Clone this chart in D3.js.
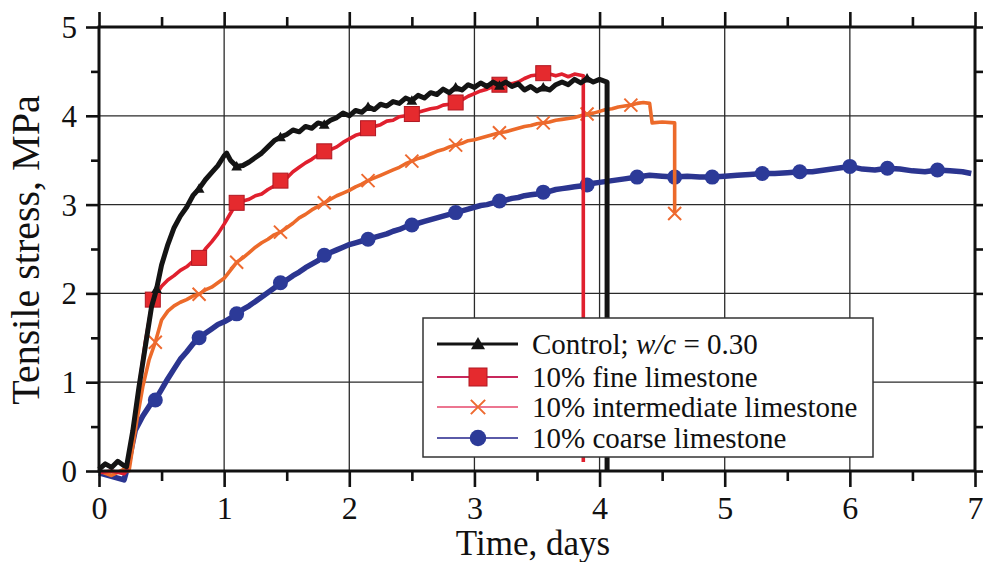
<!DOCTYPE html>
<html>
<head>
<meta charset="utf-8">
<script src="https://cdn.jsdelivr.net/npm/d3@7/dist/d3.min.js"></script>
<style>
  html, body { margin: 0; padding: 0; background: #fff; }
  svg { display: block; font-family: "Liberation Serif", "Times New Roman", serif; }
</style>
</head>
<body>
<svg id="chart" width="983" height="562"></svg>
<script>
// Tensile stress development, [time (days), stress (MPa)]
const controlData = [
  [0,0.02],[0.05,0.08],[0.1,0.04],[0.15,0.11],[0.2,0.06],[0.22,0.05],
  [0.27,0.45],[0.32,0.95],[0.37,1.4],[0.42,1.85],[0.46,2.05],[0.5,2.32],[0.55,2.55],
  [0.6,2.74],[0.65,2.87],[0.7,2.97],[0.75,3.1],[0.8,3.18],[0.85,3.28],[0.9,3.36],
  [0.95,3.44],[1.0,3.55],[1.02,3.58],[1.05,3.5],[1.1,3.43],[1.15,3.44],[1.2,3.48],
  [1.25,3.53],[1.3,3.58],[1.35,3.65],[1.4,3.72],[1.45,3.76],[1.5,3.79],[1.55,3.84],
  [1.6,3.82],[1.65,3.88],[1.7,3.86],[1.75,3.92],[1.8,3.9],[1.85,3.95],[1.9,3.98],
  [1.95,4.03],[2.0,4.0],[2.05,4.06],[2.1,4.04],[2.15,4.1],[2.2,4.07],[2.25,4.13],
  [2.3,4.11],[2.35,4.16],[2.4,4.14],[2.45,4.2],[2.5,4.17],[2.55,4.23],[2.6,4.2],
  [2.65,4.26],[2.7,4.24],[2.75,4.3],[2.8,4.26],[2.85,4.32],[2.9,4.29],[2.95,4.35],
  [3.0,4.32],[3.05,4.37],[3.1,4.33],[3.15,4.38],[3.2,4.34],[3.25,4.38],[3.3,4.33],
  [3.35,4.36],[3.4,4.29],[3.45,4.33],[3.5,4.28],[3.55,4.32],[3.6,4.29],[3.65,4.35],
  [3.7,4.38],[3.75,4.35],[3.8,4.41],[3.85,4.37],[3.9,4.42],[3.95,4.38],[4.0,4.41],
  [4.06,4.38],[4.06,0]
];
const fineData = [
  [0,-0.02],[0.1,0.0],[0.2,-0.03],[0.22,0.0],[0.27,0.45],[0.32,0.95],[0.37,1.45],
  [0.43,1.93],[0.5,2.08],[0.55,2.15],[0.6,2.2],[0.65,2.26],[0.7,2.3],[0.75,2.36],
  [0.8,2.4],[0.85,2.5],[0.9,2.58],[0.95,2.67],[1.0,2.78],[1.05,2.9],[1.1,3.02],
  [1.15,3.04],[1.2,3.06],[1.25,3.1],[1.3,3.12],[1.35,3.17],[1.4,3.21],[1.45,3.27],
  [1.5,3.3],[1.55,3.37],[1.6,3.42],[1.65,3.47],[1.7,3.51],[1.75,3.56],[1.8,3.6],
  [1.85,3.62],[1.9,3.65],[1.95,3.7],[2.0,3.74],[2.05,3.78],[2.1,3.8],[2.15,3.86],
  [2.2,3.88],[2.25,3.9],[2.3,3.94],[2.35,3.95],[2.4,3.99],[2.45,4.0],[2.5,4.02],
  [2.55,4.04],[2.6,4.06],[2.65,4.08],[2.7,4.09],[2.75,4.12],[2.8,4.13],[2.85,4.15],
  [2.9,4.18],[2.95,4.22],[3.0,4.25],[3.05,4.28],[3.1,4.3],[3.15,4.33],[3.2,4.35],
  [3.25,4.37],[3.3,4.36],[3.35,4.38],[3.4,4.42],[3.45,4.45],[3.5,4.46],[3.55,4.48],
  [3.6,4.47],[3.65,4.45],[3.7,4.47],[3.75,4.44],[3.8,4.47],[3.87,4.45],[3.87,0.1]
];
const intermediateData = [
  [0,0.0],[0.1,-0.05],[0.2,0.02],[0.24,0.0],[0.3,0.55],[0.35,0.95],[0.4,1.25],
  [0.45,1.45],[0.5,1.7],[0.55,1.8],[0.6,1.86],[0.65,1.9],[0.7,1.93],[0.75,1.97],
  [0.8,1.99],[0.85,2.04],[0.9,2.07],[0.95,2.12],[1.0,2.17],[1.05,2.26],[1.1,2.35],
  [1.15,2.4],[1.2,2.46],[1.25,2.52],[1.3,2.57],[1.35,2.61],[1.4,2.66],[1.45,2.69],
  [1.5,2.74],[1.55,2.79],[1.6,2.85],[1.65,2.89],[1.7,2.94],[1.75,2.98],[1.8,3.02],
  [1.85,3.06],[1.9,3.1],[1.95,3.13],[2.0,3.16],[2.05,3.2],[2.1,3.23],[2.15,3.27],
  [2.2,3.3],[2.25,3.33],[2.3,3.36],[2.35,3.39],[2.4,3.42],[2.45,3.46],[2.5,3.49],
  [2.55,3.52],[2.6,3.54],[2.65,3.57],[2.7,3.6],[2.75,3.62],[2.8,3.65],[2.85,3.67],
  [2.9,3.69],[2.95,3.72],[3.0,3.73],[3.05,3.75],[3.1,3.77],[3.15,3.79],[3.2,3.81],
  [3.25,3.82],[3.3,3.84],[3.35,3.86],[3.4,3.88],[3.45,3.89],[3.5,3.91],[3.55,3.92],
  [3.6,3.93],[3.65,3.95],[3.7,3.96],[3.75,3.97],[3.8,3.98],[3.85,4.0],[3.9,4.02],
  [3.95,4.03],[4.0,4.05],[4.05,4.07],[4.1,4.08],[4.15,4.1],[4.2,4.11],[4.25,4.12],
  [4.3,4.14],[4.35,4.15],[4.4,4.14],[4.42,3.92],[4.5,3.93],[4.6,3.92],[4.6,2.9]
];
const coarseData = [
  [0,-0.02],[0.1,-0.06],[0.2,-0.1],[0.23,0.05],[0.29,0.46],[0.35,0.62],[0.42,0.77],
  [0.45,0.8],[0.5,0.92],[0.55,1.04],[0.6,1.15],[0.65,1.26],[0.7,1.34],[0.75,1.43],
  [0.8,1.5],[0.85,1.55],[0.9,1.6],[0.95,1.65],[1.0,1.68],[1.05,1.72],[1.1,1.77],
  [1.15,1.82],[1.2,1.86],[1.25,1.91],[1.3,1.96],[1.35,2.01],[1.4,2.06],[1.45,2.12],
  [1.5,2.15],[1.55,2.2],[1.6,2.24],[1.65,2.29],[1.7,2.33],[1.75,2.37],[1.8,2.43],
  [1.85,2.46],[1.9,2.49],[1.95,2.52],[2.0,2.55],[2.05,2.57],[2.1,2.59],[2.15,2.61],
  [2.2,2.63],[2.25,2.65],[2.3,2.67],[2.35,2.7],[2.4,2.72],[2.45,2.75],[2.5,2.77],
  [2.55,2.79],[2.6,2.81],[2.65,2.83],[2.7,2.85],[2.75,2.87],[2.8,2.89],[2.85,2.91],
  [2.9,2.93],[2.95,2.95],[3.0,2.97],[3.05,2.99],[3.1,3.0],[3.15,3.02],[3.2,3.04],
  [3.25,3.05],[3.3,3.07],[3.35,3.08],[3.4,3.1],[3.45,3.11],[3.5,3.12],[3.55,3.14],
  [3.6,3.15],[3.65,3.17],[3.7,3.18],[3.75,3.19],[3.8,3.2],[3.85,3.21],[3.9,3.22],
  [3.95,3.24],[4.0,3.25],[4.1,3.27],[4.2,3.29],[4.3,3.31],[4.4,3.33],[4.5,3.32],
  [4.6,3.31],[4.7,3.32],[4.8,3.31],[4.9,3.31],[5.0,3.32],[5.1,3.33],[5.2,3.34],
  [5.3,3.35],[5.4,3.35],[5.5,3.36],[5.6,3.37],[5.7,3.37],[5.8,3.39],[5.9,3.41],
  [6.0,3.43],[6.1,3.4],[6.2,3.39],[6.3,3.41],[6.4,3.4],[6.5,3.38],[6.6,3.37],
  [6.7,3.39],[6.8,3.38],[6.9,3.37],[6.97,3.35]
];

// Times (days) at which each series carries a symbol
const controlMarks = [0.46, 0.8, 1.1, 1.45, 1.8, 2.15, 2.5, 2.85, 3.2, 3.55, 3.9];
const fineMarks = [0.43, 0.8, 1.1, 1.45, 1.8, 2.15, 2.5, 2.85, 3.2, 3.55];
const intermediateMarks = [0.45, 0.8, 1.1, 1.45, 1.8, 2.15, 2.5, 2.85, 3.2, 3.55, 3.9, 4.25, 4.6];
const coarseMarks = [0.45, 0.8, 1.1, 1.45, 1.8, 2.15, 2.5, 2.85, 3.2, 3.55, 3.9, 4.3, 4.6, 4.9, 5.3, 5.6, 6.0, 6.3, 6.7];

const seriesNames = [
  "Control; w/c = 0.30",
  "10% fine limestone",
  "10% intermediate limestone",
  "10% coarse limestone"
];
const xTicks = [0, 1, 2, 3, 4, 5, 6, 7];
const yTicks = [0, 1, 2, 3, 4, 5];
const xMinorTicks = [0.5, 1.5, 2.5, 3.5, 4.5, 5.5, 6.5];
const yMinorTicks = [0.5, 1.5, 2.5, 3.5, 4.5];

const svg = d3.select("#chart");
const plotLeft = 99, plotRight = 975, plotTop = 27, plotBottom = 471;
const x = d3.scaleLinear().domain([0, 7]).range([plotLeft, plotRight]);
const y = d3.scaleLinear().domain([0, 5]).range([plotBottom, plotTop]);

// grid at the major ticks
const grid = svg.append("g").attr("stroke", "#2a2a2a").attr("stroke-width", 1.3);
grid.selectAll("line.gx").data(xTicks.slice(1, -1)).join("line")
  .attr("x1", d => x(d)).attr("x2", d => x(d)).attr("y1", plotTop).attr("y2", plotBottom);
grid.selectAll("line.gy").data(yTicks.slice(1, -1)).join("line")
  .attr("y1", d => y(d)).attr("y2", d => y(d)).attr("x1", plotLeft).attr("x2", plotRight);

const line = d3.line().x(d => x(d[0])).y(d => y(d[1]));

const series = [
  { data: controlData, marks: controlMarks, color: "#141414", width: 5, sym: "tri", symColor: "#141414" },
  { data: fineData, marks: fineMarks, color: "#e0202e", width: 3.6, sym: "sq", symColor: "#e52a2e" },
  { data: intermediateData, marks: intermediateMarks, color: "#ec6a2a", width: 3.6, sym: "x", symColor: "#ee6a30" },
  { data: coarseData, marks: coarseMarks, color: "#2b3590", width: 5.5, sym: "dot", symColor: "#2c3a98" }
];

function drawSymbol(g, kind, cx, cy, color, scale) {
  const s = scale || 1;
  if (kind === "tri") {
    const h = 9 * s;
    g.append("path").attr("d", `M${cx},${cy - h * 0.6}L${cx + h * 0.6},${cy + h * 0.45}L${cx - h * 0.6},${cy + h * 0.45}Z`)
      .attr("fill", color);
  } else if (kind === "sq") {
    const w = 15 * s;
    g.append("rect").attr("x", cx - w / 2).attr("y", cy - w / 2).attr("width", w).attr("height", w)
      .attr("fill", color).attr("stroke", "#b01822").attr("stroke-width", 1);
  } else if (kind === "x") {
    const r = 6.5 * s;
    g.append("path").attr("d", `M${cx - r},${cy - r}L${cx + r},${cy + r}M${cx - r},${cy + r}L${cx + r},${cy - r}`)
      .attr("stroke", color).attr("stroke-width", 2);
  } else {
    g.append("circle").attr("cx", cx).attr("cy", cy).attr("r", 7.5 * s).attr("fill", color);
  }
}

// curves, back to front
const curves = svg.append("g");
[3, 2, 1, 0].forEach(i => {
  const s = series[i];
  curves.append("path").datum(s.data).attr("d", line)
    .attr("fill", "none").attr("stroke", s.color).attr("stroke-width", s.width)
    .attr("stroke-linejoin", "round");
  const mg = curves.append("g");
  s.marks.forEach(t => {
    let p = null;
    s.data.forEach(d => { if (d[0] === t) p = d; });
    if (p) drawSymbol(mg, s.sym, x(p[0]), y(p[1]), s.symColor, 1);
  });
});

// legend
const lg = svg.append("g");
lg.append("rect").attr("x", 423).attr("y", 318).attr("width", 450).attr("height", 139)
  .attr("fill", "#fff").attr("stroke", "#333").attr("stroke-width", 1.5);
const legendLine = ["#141414", "#c8285c", "#ec7590", "#5a5aa8"];
const rowY = [344, 377, 407, 438];
series.forEach((s, i) => {
  lg.append("line").attr("x1", 437).attr("x2", 518).attr("y1", rowY[i]).attr("y2", rowY[i])
    .attr("stroke", legendLine[i]).attr("stroke-width", i === 0 ? 3 : 2);
  drawSymbol(lg, s.sym, 478, rowY[i], s.symColor, i === 1 ? 1.2 : (i === 0 ? 1.3 : 1.1));
  const t = lg.append("text").attr("x", 532).attr("y", rowY[i] + 10)
    .attr("font-size", 29).attr("fill", "#111");
  if (i === 0) {
    t.append("tspan").text("Control; ");
    t.append("tspan").attr("font-style", "italic").text("w/c");
    t.append("tspan").text(" = 0.30");
  } else {
    t.text(seriesNames[i]);
  }
});

// axes: major and minor ticks on all four sides, pointing outward
function styleAxis(g) {
  g.select(".domain").remove();
  g.selectAll(".tick line").attr("stroke", "#111").attr("stroke-width", 2.6);
}
svg.append("g").attr("transform", `translate(0,${plotBottom})`)
  .call(d3.axisBottom(x).tickValues(xTicks).tickSize(16).tickFormat(d3.format("d")))
  .call(styleAxis)
  .call(g => g.selectAll("text").attr("y", 48).attr("dy", 0)
    .attr("font-size", 32).attr("fill", "#111").attr("font-family", "Liberation Serif"));
svg.append("g").attr("transform", `translate(0,${plotBottom})`)
  .call(d3.axisBottom(x).tickValues(xMinorTicks).tickSize(10).tickFormat(""))
  .call(styleAxis);
svg.append("g").attr("transform", `translate(0,${plotTop})`)
  .call(d3.axisTop(x).tickValues(xTicks).tickSize(15).tickFormat(""))
  .call(styleAxis);
svg.append("g").attr("transform", `translate(0,${plotTop})`)
  .call(d3.axisTop(x).tickValues(xMinorTicks).tickSize(10).tickFormat(""))
  .call(styleAxis);
svg.append("g").attr("transform", `translate(${plotLeft},0)`)
  .call(d3.axisLeft(y).tickValues(yTicks).tickSize(13).tickFormat(d3.format("d")))
  .call(styleAxis)
  .call(g => g.selectAll("text").attr("x", -22).attr("dy", "0.34em")
    .attr("font-size", 31).attr("fill", "#111").attr("font-family", "Liberation Serif"));
svg.append("g").attr("transform", `translate(${plotLeft},0)`)
  .call(d3.axisLeft(y).tickValues(yMinorTicks).tickSize(8).tickFormat(""))
  .call(styleAxis);
svg.append("g").attr("transform", `translate(${plotRight},0)`)
  .call(d3.axisRight(y).tickValues(yTicks).tickSize(12).tickFormat(""))
  .call(styleAxis);
svg.append("g").attr("transform", `translate(${plotRight},0)`)
  .call(d3.axisRight(y).tickValues(yMinorTicks).tickSize(8).tickFormat(""))
  .call(styleAxis);

// plot frame
svg.append("rect").attr("x", plotLeft).attr("y", plotTop)
  .attr("width", plotRight - plotLeft).attr("height", plotBottom - plotTop)
  .attr("fill", "none").attr("stroke", "#111").attr("stroke-width", 3);

// axis titles
svg.append("text").attr("x", 533).attr("y", 555).attr("text-anchor", "middle")
  .attr("font-size", 35).attr("fill", "#111").text("Time, days");
svg.append("text").attr("transform", "translate(39,250) rotate(-90)").attr("text-anchor", "middle")
  .attr("font-size", 40).attr("fill", "#111").text("Tensile stress, MPa");
</script>
</body>
</html>
